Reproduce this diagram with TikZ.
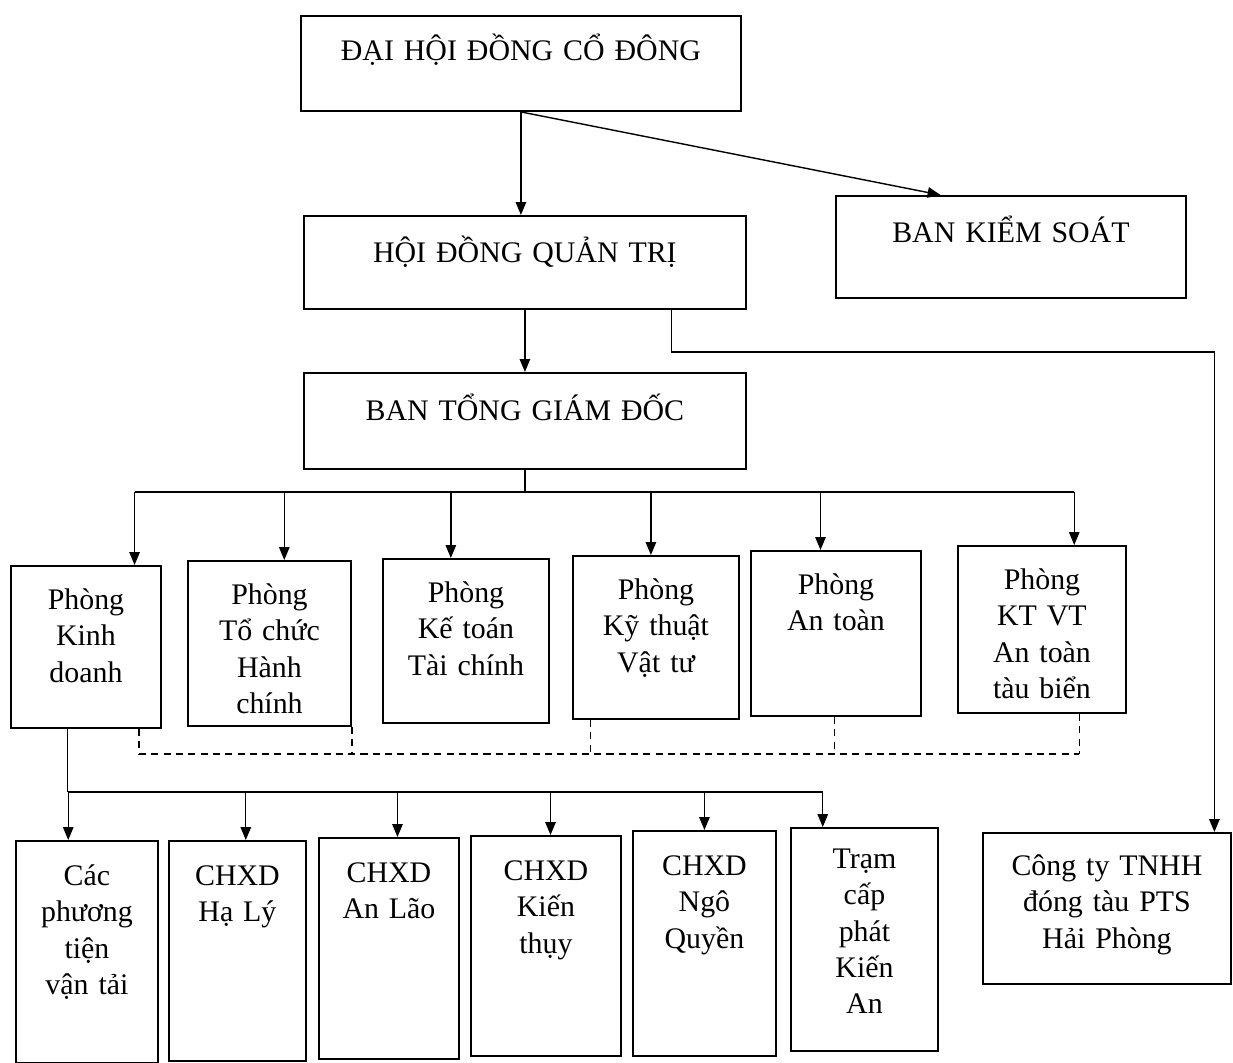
\documentclass[tikz,border=0pt]{standalone}
\usepackage{fontspec}
\setmainfont{Liberation Serif}
\usetikzlibrary{arrows.meta,calc}

\begin{document}
\begin{tikzpicture}[x=0.02cm, y=-0.02cm, every node/.style={font=\fontsize{17}{20.5}\selectfont}, orgbox/.style n args={3}{draw, line width=1.1pt, anchor=north west, align=center, inner sep=0pt, text width=#1, text height=#2, text depth=#3}, arrow/.style={-{Triangle[length=2.6mm, width=2.1mm]}, line width=0.8pt}, link/.style={line width=0.8pt}, dotlink/.style={line width=0.8pt, dash pattern=on 4pt off 3pt}]
\useasboundingbox (0,0) rectangle (1233,1062);
% upper levels
\node[orgbox={8.8cm}{0.9cm}{1.0cm}] (dhcd) at (300,15) {ĐẠI HỘI ĐỒNG CỔ ĐÔNG};
\node[orgbox={7.0cm}{0.94cm}{1.1cm}] (bks) at (835,195) {BAN KIỂM SOÁT};
\node[orgbox={8.84cm}{0.94cm}{0.92cm}] (hdqt) at (303,215) {HỘI ĐỒNG QUẢN TRỊ};
\node[orgbox={8.84cm}{0.96cm}{0.96cm}] (btgd) at (303,372) {BAN TỔNG GIÁM ĐỐC};
% phong ban
\node[orgbox={3.0cm}{0.88cm}{2.36cm}] (k1) at (10,565) {Phòng\\Kinh\\doanh};
\node[orgbox={3.26cm}{0.88cm}{2.42cm}] (k2) at (187,560) {Phòng\\Tổ chức\\Hành\\chính};
\node[orgbox={3.32cm}{0.88cm}{2.4cm}] (k3) at (382,558) {Phòng\\Kế toán\\Tài chính};
\node[orgbox={3.32cm}{0.88cm}{2.38cm}] (k4) at (572,555) {Phòng\\Kỹ thuật\\Vật tư};
\node[orgbox={3.4cm}{0.88cm}{2.42cm}] (k5) at (750,550) {Phòng\\An toàn};
\node[orgbox={3.36cm}{0.88cm}{2.46cm}] (k6) at (957,545) {Phòng\\KT VT\\An toàn\\tàu biển};
% don vi truc thuoc
\node[orgbox={2.84cm}{0.9cm}{3.54cm}] (c1) at (15,840) {Các\\phương\\tiện\\vận tải};
\node[orgbox={2.74cm}{0.9cm}{3.5cm}] (c2) at (168,840) {CHXD\\Hạ Lý};
\node[orgbox={2.8cm}{0.9cm}{3.52cm}] (c3) at (318,837) {CHXD\\An Lão};
\node[orgbox={3.0cm}{0.9cm}{3.5cm}] (c4) at (470,835) {CHXD\\Kiến\\thụy};
\node[orgbox={2.86cm}{0.9cm}{3.6cm}] (c5) at (632,830) {CHXD\\Ngô\\Quyền};
\node[orgbox={2.94cm}{0.82cm}{3.64cm}] (c6) at (790,827) {Trạm\\cấp\\phát\\Kiến\\An};
\node[orgbox={4.96cm}{0.86cm}{2.16cm}] (cty) at (982,832) {Công ty TNHH\\đóng tàu PTS\\Hải Phòng};
% top links
\draw[arrow] (dhcd.south) -- (dhcd.south |- hdqt.north);
\draw[arrow] (dhcd.south) -- ($(bks.north west)!0.3!(bks.north east)$);
\draw[arrow] (hdqt.south) -- (hdqt.south |- btgd.north);
\draw[arrow] ($(hdqt.south west)!0.83!(hdqt.south east)$) -- ++(0,42) -| ($(cty.north west)!0.93!(cty.north east)$);
% tong giam doc -> phong
\coordinate (bus) at ($(btgd.south)+(0,22)$);
\draw[link] (btgd.south) -- (bus);
\foreach \n/\f in {k1/0.82, k2/0.59, k3/0.41, k4/0.47, k5/0.41, k6/0.69} {
  \coordinate (t\n) at ($(\n.north west)!\f!(\n.north east)$);
  \draw[arrow] (t\n |- bus) -- (t\n);
}
\draw[link] (tk1 |- bus) -- (tk6 |- bus);
% phoi hop giua cac phong
\coordinate (dl) at ($(k1.south)+(0,25)$);
\foreach \n/\f in {k1/0.85, k2/1.0, k4/0.11, k5/0.49, k6/0.72} {
  \coordinate (d\n) at ($(\n.south west)!\f!(\n.south east)$);
  \draw[dotlink] (d\n) -- (d\n |- dl);
}
\draw[dotlink] (dk1 |- dl) -- (dk6 |- dl);
% kinh doanh -> cua hang
\coordinate (kd) at ($(k1.south west)!0.38!(k1.south east)$);
\coordinate (sub) at ($(kd)+(0,63)$);
\draw[link] (kd) -- (sub);
\foreach \n/\f in {c1/0.37, c2/0.56, c3/0.56, c4/0.53, c5/0.5, c6/0.22} {
  \coordinate (t\n) at ($(\n.north west)!\f!(\n.north east)$);
  \draw[arrow] (t\n |- sub) -- (t\n);
}
\draw[link] (tc1 |- sub) -- (tc6 |- sub);
\end{tikzpicture}
\end{document}
